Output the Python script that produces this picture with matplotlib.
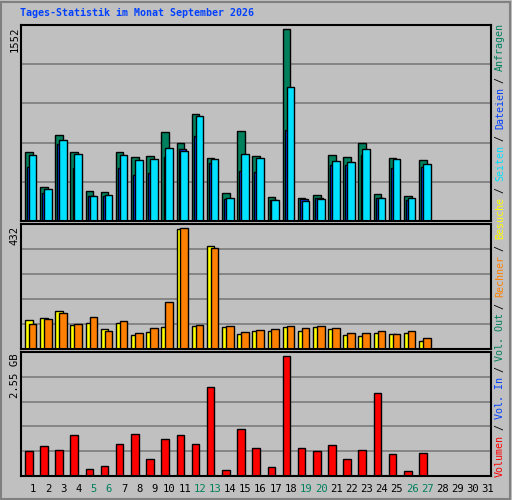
import matplotlib
matplotlib.use("Agg")
import matplotlib.pyplot as plt
from matplotlib.patches import Rectangle

days = list(range(1, 32))
weekend = [5, 6, 12, 13, 19, 20, 26, 27]
hits = [546, 269, 681, 546, 238, 230, 546, 507, 515, 705, 618, 847, 499, 222, 713, 515,
        190, 1521, 182, 206, 523, 507, 618, 214, 499, 198, 483]
files = [428, 222, 610, 420, 198, 198, 420, 364, 380, 507, 570, 673, 459, 174, 396, 388,
         166, 720, 175, 185, 443, 440, 523, 180, 420, 170, 430]
pages = [523, 253, 641, 530, 198, 206, 523, 483, 491, 578, 554, 831, 491, 182, 530, 499,
         166, 1061, 158, 174, 475, 467, 570, 182, 491, 182, 451]
visits = [100, 107, 131, 83, 90, 69, 90, 48, 59, 76, 415, 79, 356, 76, 52, 62,
          62, 76, 62, 76, 69, 48, 45, 55, 52, 55, 28]
sites = [86, 104, 124, 86, 111, 62, 97, 55, 73, 162, 418, 83, 349, 79, 59, 66,
         69, 79, 73, 79, 73, 55, 55, 62, 52, 62, 38]
volume_gb = [0.52, 0.61, 0.54, 0.85, 0.15, 0.21, 0.65, 0.87, 0.34, 0.77, 0.85, 0.65, 1.82, 0.13,
             0.96, 0.58, 0.19, 2.46, 0.58, 0.52, 0.63, 0.34, 0.54, 1.70, 0.46, 0.11, 0.48]
max_hits, max_visits, max_vol = 1552, 432, 2.55

BG = "#c0c0c0"
W, H = 512, 500
fig = plt.figure(figsize=(W/100, H/100), dpi=100, facecolor=BG)

def ax_px(x0, y0, x1, y1):
    return fig.add_axes([x0/W, 1-y1/H, (x1-x0)/W, (y1-y0)/H])

def style(ax, ymax):
    ax.set_facecolor(BG)
    ax.set_xlim(0.5, 31.5)
    ax.set_ylim(0, ymax*1.0)
    for k in range(1, 5):
        ax.axhline(ymax*k/5, color="#808080", lw=1.3, zorder=0)
    for s in ax.spines.values():
        s.set_linewidth(1.5)
    ax.set_xticks([]); ax.set_yticks([])

n = len(hits)
d = days[:n]
ax1 = ax_px(21, 25, 491, 221)
style(ax1, max_hits)
kw = dict(width=0.5, align="edge", edgecolor="black", linewidth=1)
ax1.bar([x-0.24 for x in d], hits, color="#00805c", **kw)
ax1.bar([x-0.1 for x in d], files, color="#0040ff", **kw)
ax1.bar([x+0.02 for x in d], pages, color="#00e0ff", **kw)

ax2 = ax_px(21, 224, 491, 349)
style(ax2, max_visits)
ax2.bar([x-0.24 for x in d], visits, color="#ffff00", **kw)
ax2.bar([x+0.02 for x in d], sites, color="#ff8000", **kw)

ax3 = ax_px(21, 352, 491, 476)
style(ax3, max_vol)
ax3.bar([x-0.24 for x in d], volume_gb, color="#ff0000", **kw)

mono = "DejaVu Sans Mono"
fig.text(20/W, 1-13/H, "Tages-Statistik im Monat September 2026", color="#0040ff",
         family=mono, weight="bold", fontsize=7.2, va="center", ha="left")
for txt, ytop in [("1552", 27), ("432", 226), ("2.55 GB", 353)]:
    fig.text(15/W, 1-ytop/H, txt, rotation=90, family=mono, fontsize=7.6,
             va="top", ha="center", color="black")

for day in days:
    c = "#00805c" if day in weekend else "black"
    xp = 21 + (day - 0.5 + 0.3) * (470/31)
    fig.text(xp/W, 1-489/H, str(day), family=mono, fontsize=7.6, color=c,
             ha="center", va="center")

parts = [("Volumen", "#ff0000"), (" / ", "black"), ("Vol. In", "#0040ff"), (" / ", "black"),
         ("Vol. Out", "#00805c"), (" / ", "black"), ("Rechner", "#ff8000"), (" / ", "black"),
         ("Besuche", "#ffff00"), (" / ", "black"), ("Seiten", "#00e0ff"), (" / ", "black"),
         ("Dateien", "#0040ff"), (" / ", "black"), ("Anfragen", "#00805c")]
total = sum(len(p) for p, _ in parts)
cw = (477 - 25) / total
y = 477
for p, c in parts:
    fig.text(500/W, 1-y/H, p, rotation=90, family=mono, fontsize=7.2, color=c,
             ha="center", va="bottom")
    y -= len(p) * cw

fig.patches.append(Rectangle((1/W, 1/H), (W-3)/W, (H-3)/H, transform=fig.transFigure,
                             fill=False, edgecolor="#808080", lw=1.5))
fig.savefig("out.png", dpi=100, facecolor=BG)
